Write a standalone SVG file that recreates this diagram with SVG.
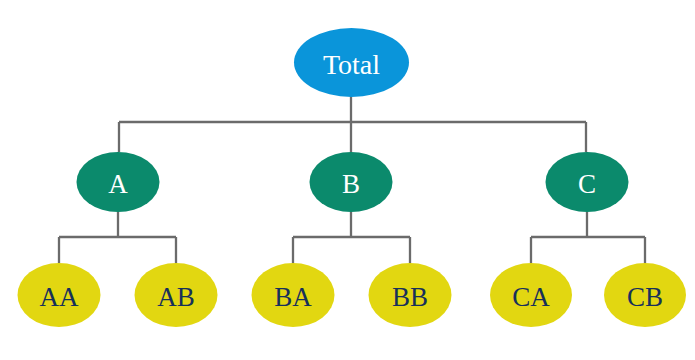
<svg xmlns="http://www.w3.org/2000/svg" width="695" height="360" viewBox="0 0 695 360">
  <style>
    .conn { fill: none; stroke: #6b6b6b; stroke-width: 2.3; }
    .root { fill: #0a95da; }
    .mid { fill: #0b8a6c; }
    .leaf { fill: #e2d711; }
    text { font-family: "Liberation Serif", "DejaVu Serif", serif; text-anchor: middle; dominant-baseline: central; }
    .lt { fill: #ffffff; font-size: 27px; }
    .dt { fill: #17305a; font-size: 27px; }
  </style>
  <rect width="695" height="360" fill="#ffffff"/>
  <g id="connectors">
    <path class="conn" d="M351 96 V122 M119 122 H586 M119 122 V152 M351 122 V152 M586 122 V152"/>
    <path class="conn" d="M118 212 V237 M59 237 H176 M59 237 V263 M176 237 V263"/>
    <path class="conn" d="M351 212 V237 M293 237 H410 M293 237 V263 M410 237 V263"/>
    <path class="conn" d="M587 212 V237 M531 237 H645 M531 237 V263 M645 237 V263"/>
  </g>
  <g id="total"><ellipse class="root" cx="351.5" cy="62.5" rx="57.5" ry="34.5"/><text class="lt" x="351.5" y="64" style="font-size:28px">Total</text></g>
  <g id="a"><ellipse class="mid" cx="118" cy="182" rx="41.5" ry="30"/><text class="lt" x="118" y="184">A</text></g>
  <g id="b"><ellipse class="mid" cx="351" cy="182" rx="41.5" ry="30"/><text class="lt" x="351" y="184">B</text></g>
  <g id="c"><ellipse class="mid" cx="587" cy="182" rx="41.5" ry="30"/><text class="lt" x="587" y="184">C</text></g>
  <g id="aa"><ellipse class="leaf" cx="59" cy="295" rx="41.5" ry="32"/><text class="dt" x="59" y="297">AA</text></g>
  <g id="ab"><ellipse class="leaf" cx="176" cy="295" rx="41.5" ry="32"/><text class="dt" x="176" y="297">AB</text></g>
  <g id="ba"><ellipse class="leaf" cx="293" cy="295" rx="41.5" ry="32"/><text class="dt" x="293" y="297">BA</text></g>
  <g id="bb"><ellipse class="leaf" cx="410" cy="295" rx="41.5" ry="32"/><text class="dt" x="410" y="297">BB</text></g>
  <g id="ca"><ellipse class="leaf" cx="531" cy="295" rx="41" ry="32"/><text class="dt" x="531" y="297">CA</text></g>
  <g id="cb"><ellipse class="leaf" cx="645" cy="295" rx="41" ry="32"/><text class="dt" x="645" y="297">CB</text></g>
</svg>
